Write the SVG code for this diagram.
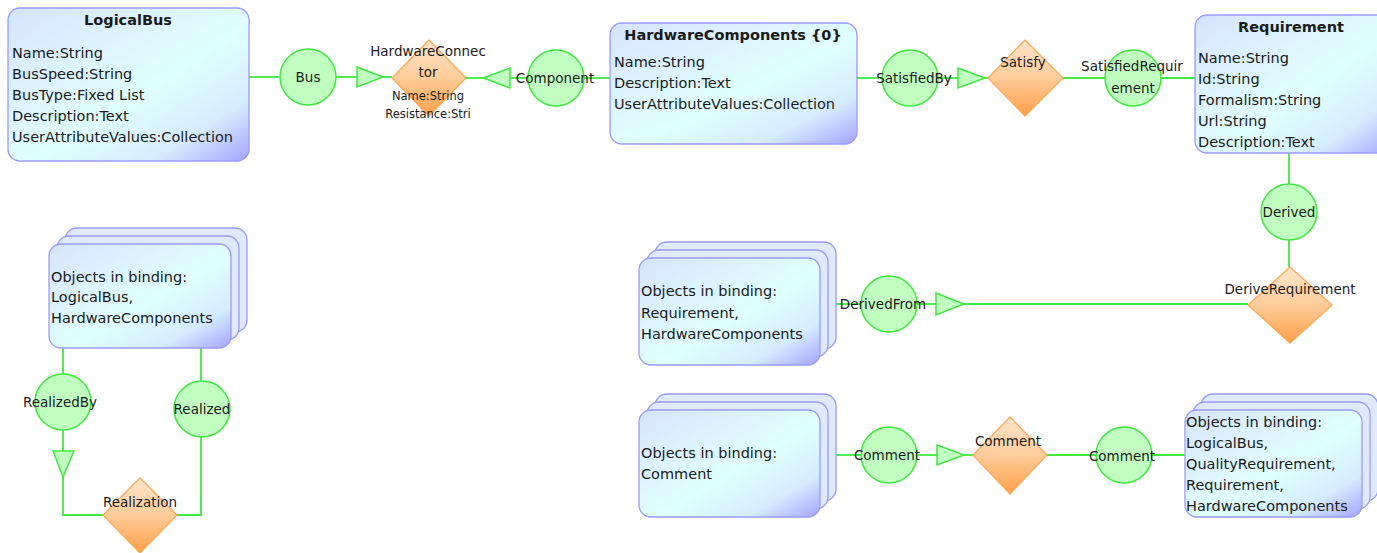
<svg xmlns="http://www.w3.org/2000/svg" width="1377" height="553" viewBox="0 0 1377 553">
<defs>
<linearGradient id="gBox" x1="0" y1="0" x2="1" y2="1">
<stop offset="0" stop-color="#d6e4ff"/>
<stop offset="0.55" stop-color="#e0ffff"/>
<stop offset="0.8" stop-color="#d4ecff"/>
<stop offset="1" stop-color="#a4a4ff"/>
</linearGradient>
<linearGradient id="gDia" x1="0" y1="0" x2="0" y2="1">
<stop offset="0" stop-color="#ffe6cc"/>
<stop offset="0.5" stop-color="#ffcc99"/>
<stop offset="1" stop-color="#ff9f4a"/>
</linearGradient>
<style>
.box{fill:url(#gBox);stroke:#9a9aff;stroke-width:1.3}
.back{fill:#dfe9ff;stroke:#9a9aff;stroke-width:1.3}
.dia{fill:url(#gDia);stroke:#ffa858;stroke-width:1.3}
.cir{fill:#c0ffc0;stroke:#3fe83f;stroke-width:1.5}
.tri{fill:#c0ffc0;stroke:#3fe83f;stroke-width:1.5}
.ln{fill:none;stroke:#3fe83f;stroke-width:1.8}
text{font-family:"DejaVu Sans","Liberation Sans",sans-serif;font-size:14.5px;fill:#1a1a1a}
.t{font-weight:bold;font-size:14.5px;text-anchor:middle}
.c{text-anchor:middle;font-size:13.5px}
.s{text-anchor:middle;font-size:11.5px}
</style>
</defs>
<g id="connectors">
<polyline class="ln" points="249,77 279,77"/>
<polyline class="ln" points="336,77 357,77"/>
<polyline class="ln" points="383,77 392,77"/>
<polyline class="ln" points="466,78 483,78"/>
<polyline class="ln" points="510,78 528,78"/>
<polyline class="ln" points="584,78 610,78"/>
<polyline class="ln" points="857,78 882,78"/>
<polyline class="ln" points="938,78 958,78"/>
<polyline class="ln" points="985,78 988,78"/>
<polyline class="ln" points="1063,78 1105,78"/>
<polyline class="ln" points="1161,78 1195,78"/>
<polyline class="ln" points="1289,153 1289,184"/>
<polyline class="ln" points="1289,240 1289,267"/>
<polyline class="ln" points="836,304 861,304"/>
<polyline class="ln" points="917,304 936,304"/>
<polyline class="ln" points="964,304 1248,304"/>
<polyline class="ln" points="836,455 861,455"/>
<polyline class="ln" points="917,455 937,455"/>
<polyline class="ln" points="964,455 973,455"/>
<polyline class="ln" points="1047,455 1096,455"/>
<polyline class="ln" points="1152,455 1185,455"/>
<polyline class="ln" points="63,348 63,374"/>
<polyline class="ln" points="63,430 63,451"/>
<polyline class="ln" points="63,477 63,515 103,515"/>
<polyline class="ln" points="177,515 201,515 201,437"/>
<polyline class="ln" points="201,381 201,348"/>
<polygon class="tri" points="357,67 383,77 357,87"/>
<polygon class="tri" points="483,78 510,68 510,88"/>
<polygon class="tri" points="958,68 985,78 958,88"/>
<polygon class="tri" points="936,293 964,304 936,315"/>
<polygon class="tri" points="937,445 964,455 937,465"/>
<polygon class="tri" points="53,451 74,451 63,477"/>
</g>
<g id="LogicalBus">
<rect class="box" x="8" y="8" width="241" height="153" rx="12"/>
<text class="t" x="128" y="25">LogicalBus</text>
<text x="12" y="58">Name:String</text>
<text x="12" y="79">BusSpeed:String</text>
<text x="12" y="100">BusType:Fixed List</text>
<text x="12" y="121">Description:Text</text>
<text x="12" y="142">UserAttributeValues:Collection</text>
</g>
<g id="Bus">
<circle class="cir" cx="308" cy="77" r="28"/>
<text class="c" x="308" y="82">Bus</text>
</g>
<g id="HardwareConnector">
<polygon class="dia" points="429,40 466,78 429,116 392,78"/>
<text class="c" x="428" y="56">HardwareConnec</text>
<text class="c" x="428" y="77">tor</text>
<text class="s" x="428" y="100">Name:String</text>
<text class="s" x="428" y="118">Resistance:Stri</text>
</g>
<g id="Component">
<circle class="cir" cx="556" cy="78" r="28"/>
<text class="c" x="555" y="83">Component</text>
</g>
<g id="HardwareComponents">
<rect class="box" x="610" y="23" width="247" height="121" rx="12"/>
<text class="t" x="733" y="40">HardwareComponents {0}</text>
<text x="614" y="67">Name:String</text>
<text x="614" y="88">Description:Text</text>
<text x="614" y="109">UserAttributeValues:Collection</text>
</g>
<g id="SatisfiedBy">
<circle class="cir" cx="910" cy="78" r="28"/>
<text class="c" x="914" y="83">SatisfiedBy</text>
</g>
<g id="Satisfy">
<polygon class="dia" points="1025,40 1063,78 1025,116 988,78"/>
<text class="c" x="1023" y="67">Satisfy</text>
</g>
<g id="SatisfiedRequirement">
<circle class="cir" cx="1133" cy="78" r="28"/>
<text class="c" x="1132" y="71">SatisfiedRequir</text>
<text class="c" x="1133" y="93">ement</text>
</g>
<g id="Requirement">
<rect class="box" x="1195" y="15" width="200" height="138" rx="12"/>
<text class="t" x="1291" y="32">Requirement</text>
<text x="1198" y="63">Name:String</text>
<text x="1198" y="84">Id:String</text>
<text x="1198" y="105">Formalism:String</text>
<text x="1198" y="126">Url:String</text>
<text x="1198" y="147">Description:Text</text>
</g>
<g id="Derived">
<circle class="cir" cx="1289" cy="212" r="28"/>
<text class="c" x="1289" y="217">Derived</text>
</g>
<g id="DeriveRequirement">
<polygon class="dia" points="1290,267 1332,305 1290,343 1248,305"/>
<text class="c" x="1290" y="294">DeriveRequirement</text>
</g>
<g id="DerivedFrom">
<circle class="cir" cx="889" cy="304" r="28"/>
<text class="c" x="883" y="309">DerivedFrom</text>
</g>
<g id="BindingRequirement">
<rect class="back" x="655" y="242" width="181" height="107" rx="12"/>
<rect class="back" x="647" y="250" width="181" height="107" rx="12"/>
<rect class="box" x="639" y="258" width="181" height="107" rx="12"/>
<text x="641" y="296">Objects in binding:</text>
<text x="641" y="318">Requirement,</text>
<text x="641" y="339">HardwareComponents</text>
</g>
<g id="BindingComment">
<rect class="back" x="655" y="394" width="181" height="107" rx="12"/>
<rect class="back" x="647" y="402" width="181" height="107" rx="12"/>
<rect class="box" x="639" y="410" width="181" height="107" rx="12"/>
<text x="641" y="458">Objects in binding:</text>
<text x="641" y="479">Comment</text>
</g>
<g id="CommentFrom">
<circle class="cir" cx="889" cy="455" r="28"/>
<text class="c" x="887" y="460">Comment</text>
</g>
<g id="CommentRel">
<polygon class="dia" points="1010,417 1047,455 1010,494 973,455"/>
<text class="c" x="1008" y="446">Comment</text>
</g>
<g id="CommentTo">
<circle class="cir" cx="1124" cy="455" r="28"/>
<text class="c" x="1122" y="461">Comment</text>
</g>
<g id="BindingAll">
<rect class="back" x="1201" y="394" width="177" height="107" rx="12"/>
<rect class="back" x="1193" y="402" width="177" height="107" rx="12"/>
<rect class="box" x="1185" y="410" width="177" height="107" rx="12"/>
<text x="1186" y="427">Objects in binding:</text>
<text x="1186" y="448">LogicalBus,</text>
<text x="1186" y="469">QualityRequirement,</text>
<text x="1186" y="490">Requirement,</text>
<text x="1186" y="511">HardwareComponents</text>
</g>
<g id="BindingBus">
<rect class="back" x="65" y="228" width="182" height="104" rx="12"/>
<rect class="back" x="57" y="236" width="182" height="104" rx="12"/>
<rect class="box" x="49" y="244" width="182" height="104" rx="12"/>
<text x="51" y="282">Objects in binding:</text>
<text x="51" y="302">LogicalBus,</text>
<text x="51" y="323">HardwareComponents</text>
</g>
<g id="RealizedBy">
<circle class="cir" cx="63" cy="402" r="28"/>
<text class="c" x="60" y="407">RealizedBy</text>
</g>
<g id="Realized">
<circle class="cir" cx="202" cy="409" r="28"/>
<text class="c" x="202" y="414">Realized</text>
</g>
<g id="Realization">
<polygon class="dia" points="140,478 177,515 140,553 103,515"/>
<text class="c" x="140" y="507">Realization</text>
</g>
</svg>
